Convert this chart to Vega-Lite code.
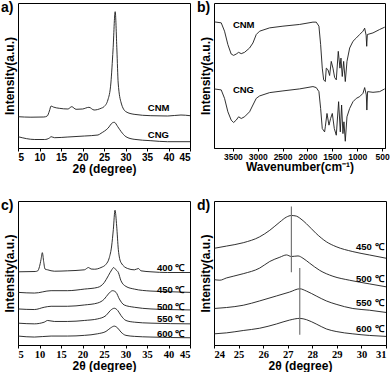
{
  "$schema": "https://vega.github.io/schema/vega-lite/v6.json",
  "padding": 0,
  "background": "white",
  "config": {
    "view": {"stroke": "black", "strokeWidth": 1},
    "axis": {"grid": false, "labelFont": "Liberation Sans", "labelFontWeight": "bold", "labelFontSize": 10, "labelColor": "black", "titleFont": "Liberation Sans", "titleFontWeight": "bold", "titleFontSize": 12, "titleColor": "black", "tickColor": "black", "domainColor": "black", "tickSize": 3, "labelPadding": 1, "titlePadding": 1},
    "axisY": {"labels": false, "ticks": false, "domain": false, "titlePadding": 2, "titleFontSize": 12},
    "title": {"font": "Liberation Sans", "fontWeight": "bold", "fontSize": 14, "color": "black", "anchor": "start", "frame": "group"},
    "line": {"color": "#1a1a1a", "strokeWidth": 0.9},
    "text": {"font": "Liberation Sans", "fontWeight": "bold", "fontSize": 9.5, "align": "left", "baseline": "middle", "color": "black"}
  },
  "datasets": {
    "a": [
      {"x": 5, "y": 31.3, "s": "CNM"}, {"x": 8, "y": 30.8, "s": "CNM"}, {"x": 11, "y": 31, "s": "CNM"}, {"x": 11.8, "y": 32, "s": "CNM"}, {"x": 12.3, "y": 37, "s": "CNM"}, {"x": 12.7, "y": 42, "s": "CNM"}, {"x": 13.2, "y": 41, "s": "CNM"}, {"x": 14.6, "y": 39.7, "s": "CNM"}, {"x": 16.6, "y": 39, "s": "CNM"}, {"x": 17.5, "y": 41.3, "s": "CNM"}, {"x": 18.5, "y": 38.7, "s": "CNM"}, {"x": 20, "y": 39, "s": "CNM"}, {"x": 21.5, "y": 40.7, "s": "CNM"}, {"x": 22.7, "y": 38, "s": "CNM"}, {"x": 24.3, "y": 39.7, "s": "CNM"}, {"x": 25, "y": 41.3, "s": "CNM"}, {"x": 25.9, "y": 48, "s": "CNM"}, {"x": 26.6, "y": 65, "s": "CNM"}, {"x": 27.1, "y": 98, "s": "CNM"}, {"x": 27.6, "y": 136.3, "s": "CNM"}, {"x": 28.0, "y": 98, "s": "CNM"}, {"x": 28.3, "y": 65, "s": "CNM"}, {"x": 29, "y": 45, "s": "CNM"}, {"x": 30.1, "y": 36.3, "s": "CNM"}, {"x": 32, "y": 33.7, "s": "CNM"}, {"x": 35.9, "y": 32.3, "s": "CNM"}, {"x": 39.8, "y": 32, "s": "CNM"}, {"x": 42.9, "y": 33, "s": "CNM"}, {"x": 45, "y": 32.3, "s": "CNM"},
      {"x": 5, "y": 11.3, "s": "CNG"}, {"x": 8.9, "y": 8.5, "s": "CNG"}, {"x": 11.2, "y": 8.5, "s": "CNG"}, {"x": 12.3, "y": 10, "s": "CNG"}, {"x": 12.7, "y": 11.3, "s": "CNG"}, {"x": 13.5, "y": 10.3, "s": "CNG"}, {"x": 16.6, "y": 11, "s": "CNG"}, {"x": 20.5, "y": 12, "s": "CNG"}, {"x": 23.6, "y": 13, "s": "CNG"}, {"x": 24.3, "y": 14.7, "s": "CNG"}, {"x": 25.9, "y": 19.7, "s": "CNG"}, {"x": 27.0, "y": 25.3, "s": "CNG"}, {"x": 27.4, "y": 25.7, "s": "CNG"}, {"x": 28.2, "y": 21.3, "s": "CNG"}, {"x": 29.0, "y": 16.3, "s": "CNG"}, {"x": 30.1, "y": 11.3, "s": "CNG"}, {"x": 32, "y": 8.7, "s": "CNG"}, {"x": 35.9, "y": 7.3, "s": "CNG"}, {"x": 39.8, "y": 6.3, "s": "CNG"}, {"x": 45, "y": 6.3, "s": "CNG"}
    ],
    "aLab": [{"x": 35.2, "y": 40, "t": "CNM"}, {"x": 35.2, "y": 13, "t": "CNG"}],
    "b": [
      {"x": 3880, "y": 125.3, "s": "CNM"}, {"x": 3735, "y": 124.3, "s": "CNM"}, {"x": 3668, "y": 116, "s": "CNM"}, {"x": 3601, "y": 102.7, "s": "CNM"}, {"x": 3534, "y": 93.3, "s": "CNM"}, {"x": 3486, "y": 92, "s": "CNM"}, {"x": 3433, "y": 93.3, "s": "CNM"}, {"x": 3385, "y": 95, "s": "CNM"}, {"x": 3332, "y": 93.7, "s": "CNM"}, {"x": 3265, "y": 95, "s": "CNM"}, {"x": 3164, "y": 99.3, "s": "CNM"}, {"x": 3097, "y": 104.3, "s": "CNM"}, {"x": 3030, "y": 112.7, "s": "CNM"}, {"x": 2963, "y": 116, "s": "CNM"}, {"x": 2761, "y": 119.3, "s": "CNM"}, {"x": 2493, "y": 121, "s": "CNM"}, {"x": 2157, "y": 122.7, "s": "CNM"}, {"x": 1890, "y": 125, "s": "CNM"}, {"x": 1823, "y": 125, "s": "CNM"}, {"x": 1769, "y": 121, "s": "CNM"}, {"x": 1735, "y": 102.7, "s": "CNM"}, {"x": 1702, "y": 79.3, "s": "CNM"}, {"x": 1674, "y": 67.7, "s": "CNM"}, {"x": 1641, "y": 66, "s": "CNM"}, {"x": 1621, "y": 79.3, "s": "CNM"}, {"x": 1587, "y": 77.7, "s": "CNM"}, {"x": 1554, "y": 72, "s": "CNM"}, {"x": 1521, "y": 86, "s": "CNM"}, {"x": 1487, "y": 79.3, "s": "CNM"}, {"x": 1453, "y": 70, "s": "CNM"}, {"x": 1420, "y": 67.7, "s": "CNM"}, {"x": 1380, "y": 96, "s": "CNM"}, {"x": 1346, "y": 79.3, "s": "CNM"}, {"x": 1326, "y": 89.3, "s": "CNM"}, {"x": 1300, "y": 71, "s": "CNM"}, {"x": 1272, "y": 86, "s": "CNM"}, {"x": 1239, "y": 66, "s": "CNM"}, {"x": 1205, "y": 86, "s": "CNM"}, {"x": 1151, "y": 99.3, "s": "CNM"}, {"x": 1084, "y": 106, "s": "CNM"}, {"x": 1017, "y": 109.3, "s": "CNM"}, {"x": 950, "y": 112.7, "s": "CNM"}, {"x": 883, "y": 116, "s": "CNM"}, {"x": 849, "y": 119, "s": "CNM"}, {"x": 820, "y": 112, "s": "CNM"}, {"x": 808, "y": 101, "s": "CNM"}, {"x": 795, "y": 112.7, "s": "CNM"}, {"x": 682, "y": 114.3, "s": "CNM"}, {"x": 547, "y": 117.7, "s": "CNM"}, {"x": 446, "y": 120, "s": "CNM"},
      {"x": 3880, "y": 58.7, "s": "CNG"}, {"x": 3735, "y": 57.7, "s": "CNG"}, {"x": 3668, "y": 49.3, "s": "CNG"}, {"x": 3601, "y": 36, "s": "CNG"}, {"x": 3534, "y": 27.7, "s": "CNG"}, {"x": 3486, "y": 25.3, "s": "CNG"}, {"x": 3433, "y": 27.7, "s": "CNG"}, {"x": 3385, "y": 31, "s": "CNG"}, {"x": 3332, "y": 29.3, "s": "CNG"}, {"x": 3265, "y": 31, "s": "CNG"}, {"x": 3164, "y": 36, "s": "CNG"}, {"x": 3097, "y": 42.7, "s": "CNG"}, {"x": 3030, "y": 49.3, "s": "CNG"}, {"x": 2963, "y": 51.7, "s": "CNG"}, {"x": 2761, "y": 55, "s": "CNG"}, {"x": 2493, "y": 56.7, "s": "CNG"}, {"x": 2157, "y": 58.7, "s": "CNG"}, {"x": 1890, "y": 61, "s": "CNG"}, {"x": 1823, "y": 60, "s": "CNG"}, {"x": 1769, "y": 56, "s": "CNG"}, {"x": 1735, "y": 39.3, "s": "CNG"}, {"x": 1702, "y": 19.3, "s": "CNG"}, {"x": 1655, "y": 16, "s": "CNG"}, {"x": 1641, "y": 21, "s": "CNG"}, {"x": 1607, "y": 34.3, "s": "CNG"}, {"x": 1567, "y": 22.7, "s": "CNG"}, {"x": 1534, "y": 29.3, "s": "CNG"}, {"x": 1500, "y": 34.3, "s": "CNG"}, {"x": 1460, "y": 19.3, "s": "CNG"}, {"x": 1420, "y": 12.7, "s": "CNG"}, {"x": 1373, "y": 46, "s": "CNG"}, {"x": 1339, "y": 16, "s": "CNG"}, {"x": 1313, "y": 42.7, "s": "CNG"}, {"x": 1286, "y": 14.3, "s": "CNG"}, {"x": 1266, "y": 26, "s": "CNG"}, {"x": 1239, "y": 6.7, "s": "CNG"}, {"x": 1205, "y": 31, "s": "CNG"}, {"x": 1151, "y": 39.3, "s": "CNG"}, {"x": 1084, "y": 46, "s": "CNG"}, {"x": 1017, "y": 49.3, "s": "CNG"}, {"x": 950, "y": 51, "s": "CNG"}, {"x": 883, "y": 54.3, "s": "CNG"}, {"x": 849, "y": 60, "s": "CNG"}, {"x": 816, "y": 52.7, "s": "CNG"}, {"x": 805, "y": 37.7, "s": "CNG"}, {"x": 790, "y": 56, "s": "CNG"}, {"x": 682, "y": 55.3, "s": "CNG"}, {"x": 547, "y": 56, "s": "CNG"}, {"x": 446, "y": 58.7, "s": "CNG"}
    ],
    "bLab": [{"x": 3500, "y": 122, "t": "CNM"}, {"x": 3500, "y": 58, "t": "CNG"}],
    "c": [
      {"x": 5, "y": 73.7, "s": "400"}, {"x": 9, "y": 74, "s": "400"}, {"x": 9.6, "y": 74.7, "s": "400"}, {"x": 10.0, "y": 79, "s": "400"}, {"x": 10.35, "y": 86, "s": "400"}, {"x": 10.66, "y": 93, "s": "400"}, {"x": 10.97, "y": 84, "s": "400"}, {"x": 11.28, "y": 76.5, "s": "400"}, {"x": 11.9, "y": 75.7, "s": "400"}, {"x": 13.45, "y": 74.3, "s": "400"}, {"x": 16.55, "y": 74.7, "s": "400"}, {"x": 20.43, "y": 75.7, "s": "400"}, {"x": 21.4, "y": 78, "s": "400"}, {"x": 22.0, "y": 76.5, "s": "400"}, {"x": 22.75, "y": 76.3, "s": "400"}, {"x": 24.3, "y": 78, "s": "400"}, {"x": 25.47, "y": 81.3, "s": "400"}, {"x": 26.24, "y": 88, "s": "400"}, {"x": 26.78, "y": 99.7, "s": "400"}, {"x": 27.17, "y": 116.3, "s": "400"}, {"x": 27.56, "y": 135.7, "s": "400"}, {"x": 27.95, "y": 119.7, "s": "400"}, {"x": 28.33, "y": 96.3, "s": "400"}, {"x": 28.95, "y": 83, "s": "400"}, {"x": 30.5, "y": 77, "s": "400"}, {"x": 32.05, "y": 75.7, "s": "400"}, {"x": 33.0, "y": 77, "s": "400"}, {"x": 33.6, "y": 74.7, "s": "400"}, {"x": 35.93, "y": 73.7, "s": "400"}, {"x": 39.8, "y": 73, "s": "400"}, {"x": 45, "y": 73, "s": "400"},
      {"x": 5, "y": 53, "s": "450"}, {"x": 8.8, "y": 52.3, "s": "450"}, {"x": 12.7, "y": 54.7, "s": "450"}, {"x": 16.55, "y": 54.7, "s": "450"}, {"x": 20.43, "y": 56.3, "s": "450"}, {"x": 23.53, "y": 58, "s": "450"}, {"x": 25.08, "y": 63, "s": "450"}, {"x": 26.0, "y": 69.7, "s": "450"}, {"x": 26.8, "y": 75.7, "s": "450"}, {"x": 27.25, "y": 78, "s": "450"}, {"x": 27.71, "y": 76, "s": "450"}, {"x": 28.33, "y": 73, "s": "450"}, {"x": 28.95, "y": 64.7, "s": "450"}, {"x": 30.1, "y": 59, "s": "450"}, {"x": 32.05, "y": 56.3, "s": "450"}, {"x": 35.93, "y": 54.3, "s": "450"}, {"x": 39.8, "y": 53.7, "s": "450"}, {"x": 45, "y": 53, "s": "450"},
      {"x": 5, "y": 36.3, "s": "500"}, {"x": 8.8, "y": 35.7, "s": "500"}, {"x": 11.1, "y": 38, "s": "500"}, {"x": 12.7, "y": 39, "s": "500"}, {"x": 16.55, "y": 39, "s": "500"}, {"x": 20.43, "y": 40.3, "s": "500"}, {"x": 23.53, "y": 42.3, "s": "500"}, {"x": 25.08, "y": 46.3, "s": "500"}, {"x": 26.0, "y": 51.3, "s": "500"}, {"x": 27.0, "y": 54.7, "s": "500"}, {"x": 27.8, "y": 53, "s": "500"}, {"x": 28.57, "y": 46.3, "s": "500"}, {"x": 29.7, "y": 40.3, "s": "500"}, {"x": 32.05, "y": 38, "s": "500"}, {"x": 35.93, "y": 36.3, "s": "500"}, {"x": 39.8, "y": 35.7, "s": "500"}, {"x": 45, "y": 35.3, "s": "500"},
      {"x": 5, "y": 22, "s": "550"}, {"x": 8.8, "y": 21.3, "s": "550"}, {"x": 11.1, "y": 23, "s": "550"}, {"x": 11.9, "y": 24.7, "s": "550"}, {"x": 13.45, "y": 23.7, "s": "550"}, {"x": 16.55, "y": 23.7, "s": "550"}, {"x": 20.43, "y": 24.7, "s": "550"}, {"x": 23.53, "y": 26.3, "s": "550"}, {"x": 25.47, "y": 29.7, "s": "550"}, {"x": 26.47, "y": 34.7, "s": "550"}, {"x": 27.4, "y": 37, "s": "550"}, {"x": 28.2, "y": 34.7, "s": "550"}, {"x": 28.95, "y": 29.7, "s": "550"}, {"x": 30.1, "y": 24.7, "s": "550"}, {"x": 32.05, "y": 23, "s": "550"}, {"x": 35.93, "y": 22, "s": "550"}, {"x": 45, "y": 21.3, "s": "550"},
      {"x": 5, "y": 9, "s": "600"}, {"x": 8.8, "y": 8, "s": "600"}, {"x": 12.7, "y": 9, "s": "600"}, {"x": 16.55, "y": 9, "s": "600"}, {"x": 20.43, "y": 9.7, "s": "600"}, {"x": 23.53, "y": 11.3, "s": "600"}, {"x": 25.47, "y": 13.7, "s": "600"}, {"x": 26.47, "y": 17, "s": "600"}, {"x": 27.4, "y": 19, "s": "600"}, {"x": 28.2, "y": 17, "s": "600"}, {"x": 28.95, "y": 13, "s": "600"}, {"x": 30.1, "y": 9.7, "s": "600"}, {"x": 32.05, "y": 8.7, "s": "600"}, {"x": 35.93, "y": 8, "s": "600"}, {"x": 45, "y": 7.3, "s": "600"}
    ],
    "cLab": [{"x": 37.3, "y": 78, "t": "400 ℃"}, {"x": 37.3, "y": 55.7, "t": "450 ℃"}, {"x": 37.3, "y": 38, "t": "500 ℃"}, {"x": 37.3, "y": 26.3, "t": "550 ℃"}, {"x": 37.3, "y": 11.3, "t": "600 ℃"}],
    "d": [
      {"x": 24.0, "y": 98, "s": "450"}, {"x": 24.51, "y": 100.3, "s": "450"}, {"x": 25.19, "y": 103.7, "s": "450"}, {"x": 25.86, "y": 109.7, "s": "450"}, {"x": 26.27, "y": 116.3, "s": "450"}, {"x": 26.68, "y": 124.7, "s": "450"}, {"x": 26.95, "y": 129.7, "s": "450"}, {"x": 27.15, "y": 131.3, "s": "450"}, {"x": 27.35, "y": 130.7, "s": "450"}, {"x": 27.49, "y": 128.7, "s": "450"}, {"x": 27.76, "y": 123, "s": "450"}, {"x": 28.16, "y": 113, "s": "450"}, {"x": 28.57, "y": 104.7, "s": "450"}, {"x": 28.97, "y": 99.7, "s": "450"}, {"x": 29.65, "y": 94.7, "s": "450"}, {"x": 30.32, "y": 91.3, "s": "450"}, {"x": 31.0, "y": 88, "s": "450"},
      {"x": 24.0, "y": 66.3, "s": "500"}, {"x": 24.24, "y": 65.7, "s": "500"}, {"x": 24.51, "y": 68, "s": "500"}, {"x": 24.78, "y": 69.7, "s": "500"}, {"x": 25.19, "y": 72.3, "s": "500"}, {"x": 25.86, "y": 78, "s": "500"}, {"x": 26.27, "y": 84.7, "s": "500"}, {"x": 26.68, "y": 89, "s": "500"}, {"x": 26.95, "y": 91.3, "s": "500"}, {"x": 27.15, "y": 89.7, "s": "500"}, {"x": 27.42, "y": 90.3, "s": "500"}, {"x": 27.62, "y": 88, "s": "500"}, {"x": 27.89, "y": 83, "s": "500"}, {"x": 28.3, "y": 75.7, "s": "500"}, {"x": 28.84, "y": 69.7, "s": "500"}, {"x": 29.51, "y": 65.7, "s": "500"}, {"x": 30.32, "y": 62, "s": "500"}, {"x": 31.0, "y": 59, "s": "500"},
      {"x": 24.0, "y": 37, "s": "550"}, {"x": 24.51, "y": 38, "s": "550"}, {"x": 25.19, "y": 40.3, "s": "550"}, {"x": 25.86, "y": 44.7, "s": "550"}, {"x": 26.54, "y": 49.7, "s": "550"}, {"x": 27.08, "y": 53.7, "s": "550"}, {"x": 27.49, "y": 57, "s": "550"}, {"x": 27.76, "y": 54.7, "s": "550"}, {"x": 28.16, "y": 49.7, "s": "550"}, {"x": 28.57, "y": 44.7, "s": "550"}, {"x": 28.97, "y": 41.3, "s": "550"}, {"x": 29.65, "y": 37, "s": "550"}, {"x": 30.32, "y": 35.3, "s": "550"}, {"x": 31.0, "y": 33, "s": "550"},
      {"x": 24.0, "y": 11.3, "s": "600"}, {"x": 24.51, "y": 12.3, "s": "600"}, {"x": 25.19, "y": 14.7, "s": "600"}, {"x": 25.86, "y": 17, "s": "600"}, {"x": 26.54, "y": 21.3, "s": "600"}, {"x": 27.08, "y": 25.3, "s": "600"}, {"x": 27.49, "y": 27, "s": "600"}, {"x": 27.76, "y": 25.7, "s": "600"}, {"x": 28.16, "y": 21.3, "s": "600"}, {"x": 28.57, "y": 16.3, "s": "600"}, {"x": 28.97, "y": 13.7, "s": "600"}, {"x": 29.65, "y": 11.3, "s": "600"}, {"x": 30.32, "y": 9.7, "s": "600"}, {"x": 31.0, "y": 8.7, "s": "600"}
    ],
    "dLab": [{"x": 29.78, "y": 99, "t": "450 ℃"}, {"x": 29.78, "y": 67.3, "t": "500 ℃"}, {"x": 29.78, "y": 42.3, "t": "550 ℃"}, {"x": 29.78, "y": 16.3, "t": "600 ℃"}],
    "dRule": [{"x": 27.15, "y": 73.7, "y2": 140.3}, {"x": 27.49, "y": 10.3, "y2": 78}]
  },
  "columns": 2,
  "bounds": "flush",
  "spacing": {"row": 53, "column": 24},
  "concat": [
    {
      "width": 172, "height": 145,
      "title": {"text": "a)", "dx": -17, "offset": -12},
      "encoding": {
        "x": {"field": "x", "type": "quantitative", "scale": {"domain": [5, 45], "nice": false, "zero": false}, "axis": {"values": [5, 10, 15, 20, 25, 30, 35, 40, 45], "labelOverlap": false, "title": "2θ (degree)"}},
        "y": {"field": "y", "type": "quantitative", "scale": {"domain": [0, 145], "nice": false}, "axis": {"title": "Intensity(a.u.)"}}
      },
      "layer": [
        {"data": {"name": "a"}, "mark": {"type": "line", "interpolate": "monotone"}, "encoding": {"detail": {"field": "s"}}},
        {"data": {"name": "aLab"}, "mark": {"type": "text"}, "encoding": {"text": {"field": "t"}}}
      ]
    },
    {
      "width": 171, "height": 145,
      "title": {"text": "b)", "dx": -17, "offset": -12},
      "encoding": {
        "x": {"field": "x", "type": "quantitative", "scale": {"domain": [440, 3880], "nice": false, "zero": false, "reverse": true}, "axis": {"values": [3500, 3000, 2500, 2000, 1500, 1000, 500], "format": "d", "labelOverlap": false, "labelFontSize": 8.5, "title": "Wavenumber(cm⁻¹)"}},
        "y": {"field": "y", "type": "quantitative", "scale": {"domain": [0, 144], "nice": false}, "axis": {"title": "Intensity(a.u.)"}}
      },
      "layer": [
        {"data": {"name": "b"}, "mark": {"type": "line"}, "encoding": {"detail": {"field": "s"}}},
        {"data": {"name": "bLab"}, "mark": {"type": "text"}, "encoding": {"text": {"field": "t"}}}
      ]
    },
    {
      "width": 172, "height": 144,
      "title": {"text": "c)", "dx": -17, "offset": -12},
      "encoding": {
        "x": {"field": "x", "type": "quantitative", "scale": {"domain": [5, 45], "nice": false, "zero": false}, "axis": {"values": [5, 10, 15, 20, 25, 30, 35, 40, 45], "labelOverlap": false, "title": "2θ (degree)", "labelFont": "Liberation Serif", "labelFontSize": 10.5}},
        "y": {"field": "y", "type": "quantitative", "scale": {"domain": [0, 145], "nice": false}, "axis": {"title": "Intensity(a.u.)"}}
      },
      "layer": [
        {"data": {"name": "c"}, "mark": {"type": "line", "interpolate": "monotone"}, "encoding": {"detail": {"field": "s"}}},
        {"data": {"name": "cLab"}, "mark": {"type": "text"}, "encoding": {"text": {"field": "t"}}}
      ]
    },
    {
      "width": 172, "height": 144,
      "title": {"text": "d)", "dx": -17, "offset": -12},
      "encoding": {
        "x": {"field": "x", "type": "quantitative", "scale": {"domain": [24, 31], "nice": false, "zero": false}, "axis": {"values": [24, 25, 26, 27, 28, 29, 30, 31], "labelOverlap": false, "title": "2θ (degree)", "labelFont": "Liberation Serif", "labelFontSize": 10.5}},
        "y": {"field": "y", "type": "quantitative", "scale": {"domain": [0, 146], "nice": false}, "axis": {"title": "Intensity(a.u.)"}}
      },
      "layer": [
        {"data": {"name": "d"}, "mark": {"type": "line", "interpolate": "monotone"}, "encoding": {"detail": {"field": "s"}}},
        {"data": {"name": "dRule"}, "mark": {"type": "rule", "color": "#777", "strokeWidth": 1.2}, "encoding": {"y2": {"field": "y2"}}},
        {"data": {"name": "dLab"}, "mark": {"type": "text"}, "encoding": {"text": {"field": "t"}}}
      ]
    }
  ]
}
